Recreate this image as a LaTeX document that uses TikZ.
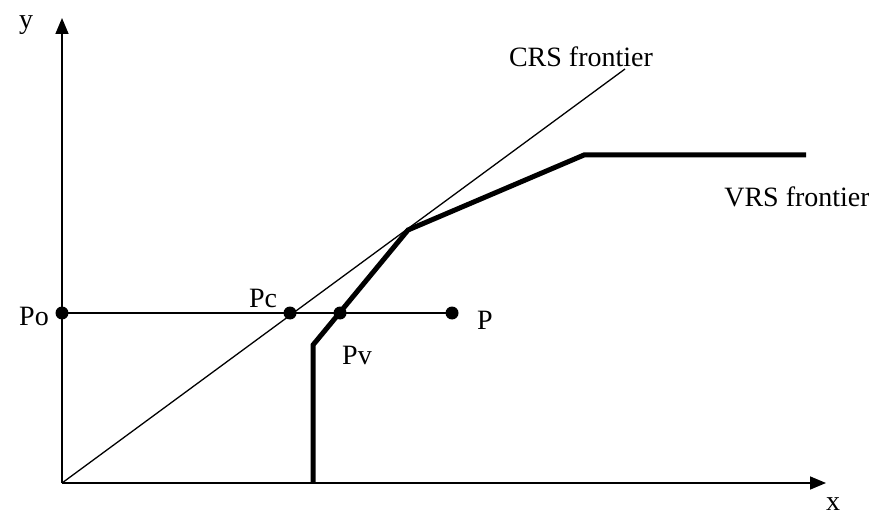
\documentclass[tikz,border=0pt]{standalone}
\usepackage{fontspec}
\setmainfont{Liberation Serif}
\usetikzlibrary{arrows.meta}
\begin{document}
\begin{tikzpicture}[x=1pt,y=-1pt,
  axis/.style={line width=1.6pt,-{Triangle[length=16pt,width=13pt]}},
  thinline/.style={line width=1.3pt},
  frontier/.style={line width=5pt,line join=miter},
  dot/.style={circle,fill=black,inner sep=0pt,minimum size=13pt},
  lbl/.style={font=\fontsize{28}{30}\selectfont,inner sep=0pt}]
\useasboundingbox (0,0) rectangle (869,518);
\coordinate (O) at (62,483);
\coordinate (Y) at (62,18);
\coordinate (X) at (826,483);
\coordinate (C) at (625,69);
\coordinate (V0) at (313,483);
\coordinate (V1) at (313,345);
\coordinate (V2) at (408,230);
\coordinate (V3) at (584,155);
\coordinate (V4) at (806,155);
\draw[axis] (O) -- (Y);
\draw[axis] (O) -- (X);
\draw[thinline] (O) -- (C);
\draw[frontier] (V0) -- (V1) -- (V2) -- (V3) -- (V4);
\node[dot] (Po) at (62,313) {};
\node[dot] (Pc) at (290,313) {};
\node[dot] (Pv) at (340,313) {};
\node[dot] (P) at (452,313) {};
\draw[thinline] (Po.center) -- (P.center);
\node[lbl] (ly) at (26,25) {y};
\node[lbl] (lx) at (833,504) {x};
\node[lbl] (lPo) at (34,316) {Po};
\node[lbl] (lPc) at (263,298) {Pc};
\node[lbl] (lPv) at (357,355) {Pv};
\node[lbl,anchor=west] (lP) at (477,320) {P};
\node[lbl] (lC) at (581,57) {CRS frontier};
\node[lbl] (lV) at (797,197) {VRS frontier};
\end{tikzpicture}
\end{document}
